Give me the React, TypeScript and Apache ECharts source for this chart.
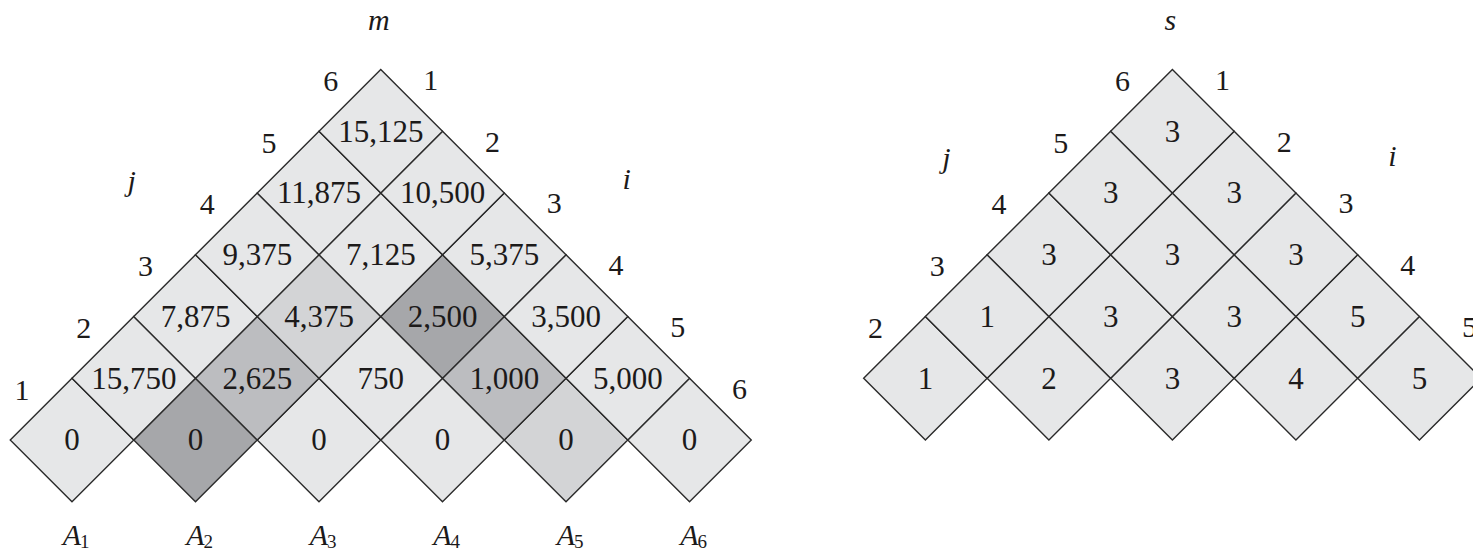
import React, { useEffect, useRef } from "react";
import * as echarts from "echarts";

// m table cells: [i, j, m[i,j]]
const mCells: [number, number, number][] = [
  [1, 1, 0], [2, 2, 0], [3, 3, 0], [4, 4, 0], [5, 5, 0], [6, 6, 0],
  [1, 2, 15750], [2, 3, 2625], [3, 4, 750], [4, 5, 1000], [5, 6, 5000],
  [1, 3, 7875], [2, 4, 4375], [3, 5, 2500], [4, 6, 3500],
  [1, 4, 9375], [2, 5, 7125], [3, 6, 5375],
  [1, 5, 11875], [2, 6, 10500],
  [1, 6, 15125],
];
// shading level of highlighted m cells (0 = plain)
const mShades: Record<string, number> = {
  "2,2": 3, "3,5": 3,
  "2,3": 2, "4,5": 2,
  "2,4": 1, "5,5": 1,
};
// s table cells: [i, j, s[i,j]]
const sCells: [number, number, number][] = [
  [1, 2, 1], [2, 3, 2], [3, 4, 3], [4, 5, 4], [5, 6, 5],
  [1, 3, 1], [2, 4, 3], [3, 5, 3], [4, 6, 5],
  [1, 4, 3], [2, 5, 3], [3, 6, 3],
  [1, 5, 3], [2, 6, 3],
  [1, 6, 3],
];
const tableNames = ["m", "s"];
const mIndices = [1, 2, 3, 4, 5, 6];
const sJIndices = [2, 3, 4, 5, 6];
const sIIndices = [1, 2, 3, 4, 5];
const matrixLabels = ["1", "2", "3", "4", "5", "6"];

const N = 6;
const S_OFFSET = 6.41; // horizontal shift of the s table (in cell units)
const SHADE_COLORS = ["#e6e7e8", "#d3d4d6", "#bcbdc0", "#a6a7aa"];
const FONT = '"Liberation Serif", "DejaVu Serif", "Times New Roman", serif';
const INK = "#1c1a1a";

type Annot = { u: number; r: number; dx: number; dy: number; text: string; italic?: boolean; size: number; sub?: string };

function buildAnnots(): Annot[] {
  const a: Annot[] = [];
  const NUM = 30;
  // m table: j labels (top vertex of m[1,k]) and i labels (top vertex of m[k,N])
  mIndices.forEach((k) => {
    a.push({ u: (1 + k) / 2, r: k, dx: -50, dy: 11, text: String(k), size: NUM });
    a.push({ u: (k + N) / 2, r: N - k + 1, dx: 50, dy: 10, text: String(k), size: NUM });
  });
  sJIndices.forEach((k) => {
    a.push({ u: (1 + k) / 2 + S_OFFSET, r: k, dx: -50, dy: 11, text: String(k), size: NUM });
  });
  sIIndices.forEach((k) => {
    a.push({ u: (k + N) / 2 + S_OFFSET, r: N - k + 1, dx: 50, dy: 10, text: String(k), size: NUM });
  });
  // titles and index letters, relative to each apex
  const apexU = (1 + N) / 2;
  a.push({ u: apexU, r: N, dx: -2, dy: -50, text: tableNames[0], italic: true, size: 30 });
  a.push({ u: apexU + S_OFFSET, r: N, dx: -2, dy: -50, text: tableNames[1], italic: true, size: 30 });
  a.push({ u: apexU, r: N, dx: -249, dy: 111, text: "j", italic: true, size: 30 });
  a.push({ u: apexU, r: N, dx: 246, dy: 109, text: "i", italic: true, size: 30 });
  a.push({ u: apexU + S_OFFSET, r: N, dx: -226, dy: 88, text: "j", italic: true, size: 30 });
  a.push({ u: apexU + S_OFFSET, r: N, dx: 220, dy: 86, text: "i", italic: true, size: 30 });
  // matrix names under the bottom row
  matrixLabels.forEach((lab, idx) => {
    a.push({ u: idx + 1, r: 0, dx: 0, dy: 95, text: "A", italic: true, size: 30, sub: lab });
  });
  return a;
}

export default function App() {
  const ref = useRef<HTMLDivElement>(null);
  useEffect(() => {
    if (!ref.current) return;
    const chart = echarts.init(ref.current, undefined, { renderer: "svg" });
    const cellData = [
      ...mCells.map(([i, j, v]) => [(i + j) / 2, j - i, v, mShades[`${i},${j}`] ?? 0]),
      ...sCells.map(([i, j, v]) => [(i + j) / 2 + S_OFFSET, j - i, v, 0]),
    ];
    const annots = buildAnnots();

    chart.setOption({
      animation: false,
      backgroundColor: "#ffffff",
      grid: { left: 10.25, right: 11.6, top: 7.75, bottom: 21.4 },
      xAxis: { type: "value", min: 0.5, max: 12.25, show: false },
      yAxis: { type: "value", min: -1.5, max: 7, show: false },
      series: [
        {
          type: "custom",
          clip: false,
          data: cellData,
          renderItem: (params: any, api: any) => {
            const u = api.value(0);
            const r = api.value(1);
            const v = api.value(2);
            const shade = api.value(3);
            const c = api.coord([u, r]);
            const L = api.coord([u - 0.5, r]);
            const R = api.coord([u + 0.5, r]);
            const T = api.coord([u, r + 1]);
            const B = api.coord([u, r - 1]);
            return {
              type: "group",
              children: [
                {
                  type: "polygon",
                  shape: { points: [L, T, R, B] },
                  style: { fill: SHADE_COLORS[shade], stroke: "#2a2a2a", lineWidth: 1.4 },
                },
                {
                  type: "text",
                  x: c[0],
                  y: c[1],
                  style: {
                    text: Number(v).toLocaleString("en-US"),
                    fontSize: 31,
                    fontFamily: FONT,
                    fill: INK,
                    align: "center",
                    verticalAlign: "middle",
                  },
                },
              ],
            };
          },
        },
        {
          type: "custom",
          clip: false,
          data: annots.map((a) => [a.u, a.r]),
          renderItem: (params: any, api: any) => {
            const a = annots[params.dataIndex];
            const p = api.coord([a.u, a.r]);
            const x = p[0] + a.dx;
            const y = p[1] + a.dy;
            if (a.sub) {
              return {
                type: "group",
                children: [
                  {
                    type: "text",
                    x: x + 9,
                    y: y,
                    style: {
                      text: a.text, fontSize: a.size, fontFamily: FONT, fontStyle: "italic",
                      fill: INK, align: "right", verticalAlign: "middle",
                    },
                  },
                  {
                    type: "text",
                    x: x + 8,
                    y: y + 7,
                    style: {
                      text: a.sub, fontSize: 19, fontFamily: FONT,
                      fill: INK, align: "left", verticalAlign: "middle",
                    },
                  },
                ],
              };
            }
            return {
              type: "text",
              x,
              y,
              style: {
                text: a.text,
                fontSize: a.size,
                fontFamily: FONT,
                fontStyle: a.italic ? "italic" : "normal",
                fill: INK,
                align: "center",
                verticalAlign: "middle",
              },
            };
          },
        },
      ],
    });
    return () => chart.dispose();
  }, []);
  return (
    <div
      ref={ref}
      style={{ position: "absolute", left: 0, top: 0, width: 1473, height: 554, background: "#fff" }}
    />
  );
}
